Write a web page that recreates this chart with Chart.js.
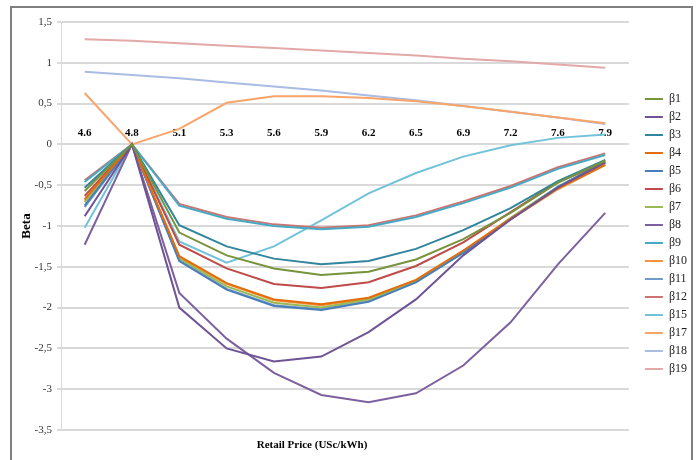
<!DOCTYPE html>
<html>
<head>
<meta charset="utf-8">
<script src="https://cdn.jsdelivr.net/npm/chart.js@4.4.1/dist/chart.umd.min.js"></script>
<style>
  html, body { margin: 0; padding: 0; background: #fff; overflow: hidden; }
  #frame { position: absolute; left: 10px; top: 6px; width: 679px; height: 480px; border: 2px solid #808080; }
  #wrap { position: absolute; left: 0; top: 0; width: 697px; height: 460px; }
  #xtitle { position: absolute; left: 212px; width: 200px; top: 437px; text-align: center;
            font: bold 11px "Liberation Serif"; line-height: 14px; color: #000; }
</style>
</head>
<body>
<div id="frame"></div>
<div id="wrap"><canvas id="betaChart" width="697" height="460"></canvas></div>
<div id="xtitle">Retail Price (USc/kWh)</div>
<script>
// retail price categories
const prices = ['4.6', '4.8', '5.1', '5.3', '5.6', '5.9', '6.2', '6.5', '6.9', '7.2', '7.6', '7.9'];

// beta values per series
const b1  = [-0.57, 0, -1.08, -1.36, -1.52, -1.60, -1.56, -1.41, -1.16, -0.84, -0.47, -0.20];
const b2  = [-0.88, 0, -2.00, -2.50, -2.66, -2.60, -2.30, -1.90, -1.36, -0.92, -0.53, -0.22];
const b3  = [-0.53, 0, -0.99, -1.25, -1.40, -1.47, -1.43, -1.28, -1.05, -0.78, -0.45, -0.19];
const b4  = [-0.67, 0, -1.37, -1.70, -1.90, -1.96, -1.88, -1.66, -1.30, -0.91, -0.54, -0.25];
const b5  = [-0.75, 0, -1.43, -1.78, -1.98, -2.03, -1.93, -1.69, -1.33, -0.92, -0.52, -0.21];
const b6  = [-0.63, 0, -1.23, -1.52, -1.71, -1.76, -1.69, -1.49, -1.20, -0.83, -0.46, -0.22];
const b7  = [-0.71, 0, -1.40, -1.74, -1.94, -2.00, -1.90, -1.67, -1.32, -0.90, -0.52, -0.23];
const b8  = [-1.23, 0, -1.82, -2.38, -2.80, -3.07, -3.16, -3.05, -2.71, -2.18, -1.47, -0.84];
const b9  = [-0.46, 0, -0.75, -0.91, -1.00, -1.04, -1.01, -0.89, -0.72, -0.53, -0.30, -0.13];
const b10 = [-0.69, 0, -1.38, -1.71, -1.91, -1.97, -1.89, -1.67, -1.31, -0.92, -0.55, -0.25];
const b11 = [-0.77, 0, -1.42, -1.77, -1.97, -2.02, -1.92, -1.68, -1.32, -0.91, -0.52, -0.21];
const b12 = [-0.44, 0, -0.73, -0.89, -0.98, -1.02, -0.99, -0.87, -0.70, -0.51, -0.28, -0.11];
const b15 = [-1.02, 0, -1.19, -1.45, -1.25, -0.93, -0.60, -0.35, -0.15, -0.01, 0.08, 0.12];
const b17 = [0.63, 0, 0.19, 0.51, 0.59, 0.59, 0.57, 0.53, 0.47, 0.40, 0.33, 0.26];
const b18 = [0.89, 0.85, 0.81, 0.76, 0.71, 0.66, 0.60, 0.54, 0.47, 0.40, 0.33, 0.25];
const b19 = [1.29, 1.27, 1.24, 1.21, 1.18, 1.15, 1.12, 1.09, 1.05, 1.02, 0.98, 0.94];

const seriesNames = ['β1', 'β2', 'β3', 'β4', 'β5', 'β6', 'β7', 'β8', 'β9', 'β10', 'β11', 'β12', 'β15', 'β17', 'β18', 'β19'];
const seriesData = [b1, b2, b3, b4, b5, b6, b7, b8, b9, b10, b11, b12, b15, b17, b18, b19];
const seriesColors = ['#77933C', '#6E5494', '#31859C', '#E46C0A', '#4A7EBB', '#BE4B48', '#98B954', '#7D60A0',
  '#46AAC5', '#F69240', '#729ACA', '#CD7371', '#72C2D9', '#F9A469', '#A9BCE3', '#E2A9A7'];

const serif = 'Liberation Serif';

const datasets = seriesNames.map((name, i) => ({
  label: name,
  data: seriesData[i],
  borderColor: seriesColors[i],
  backgroundColor: seriesColors[i],
  borderWidth: 2,
  pointRadius: 0,
  tension: 0,
  fill: false
}));

const config = {
  type: 'line',
  data: { labels: prices, datasets },
  options: {
    responsive: false,
    animation: false,
    devicePixelRatio: 1,
    layout: { padding: { top: 22, bottom: 14, left: 0, right: 0 } },
    plugins: {
      tooltip: { enabled: false },
      legend: {
        position: 'right',
        labels: {
          usePointStyle: true,
          pointStyle: 'line',
          pointStyleWidth: 18,
          padding: 6,
          color: '#222',
          font: { family: serif, size: 12 }
        }
      }
    },
    scales: {
      x: {
        type: 'category',
        position: { y: 0 },
        offset: true,
        grid: { display: false, drawTicks: false },
        border: { display: false },
        ticks: {
          padding: -18,
          autoSkip: false,
          maxRotation: 0,
          color: '#000',
          font: { family: serif, size: 11, weight: 'bold' }
        }
      },
      xt: {
        type: 'category',
        position: 'bottom',
        grid: { display: false },
        border: { display: false },
        ticks: { display: false },
        afterFit: s => { s.height = 16; }
      },
      y: {
        min: -3.5,
        max: 1.5,
        afterFit: s => { s.width = 61; },
        grid: { color: '#d9d9d9', lineWidth: 2, tickLength: 4 },
        border: { display: true, color: '#d9d9d9', width: 1 },
        ticks: {
          stepSize: 0.5,
          padding: 5,
          color: '#333',
          font: { family: serif, size: 11 },
          callback: v => String(v).replace('.', ',')
        },
        title: {
          display: true,
          text: 'Beta',
          color: '#000',
          padding: { top: 19, bottom: 0 },
          font: { family: serif, size: 13, weight: 'bold' }
        }
      },
      yr: {
        type: 'linear',
        position: 'right',
        grid: { display: false },
        border: { display: false },
        ticks: { display: false },
        afterFit: s => { s.width = 10; }
      }
    }
  }
};

const betaChart = new Chart(document.getElementById('betaChart').getContext('2d'), config);
</script>
</body>
</html>
